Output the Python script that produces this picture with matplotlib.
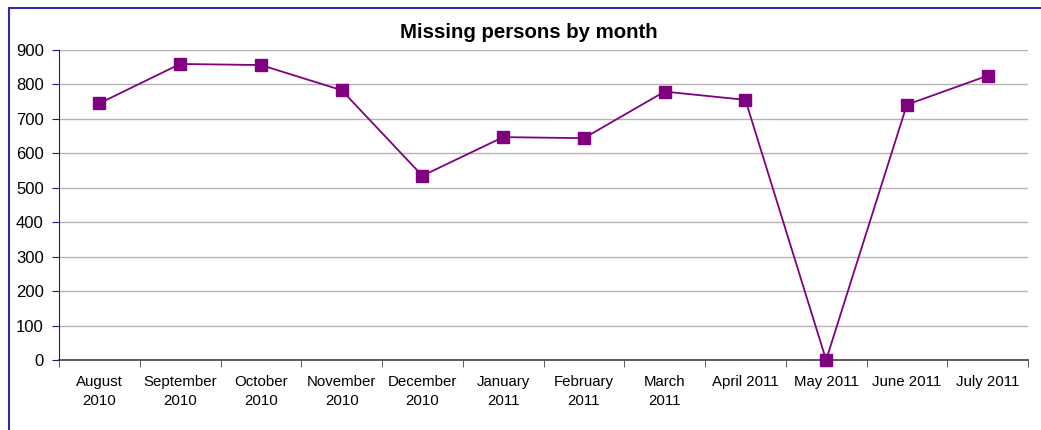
import matplotlib
matplotlib.use("Agg")
import matplotlib.pyplot as plt
from matplotlib.patches import Rectangle

# Data
months = ["August\n2010", "September\n2010", "October\n2010", "November\n2010",
          "December\n2010", "January\n2011", "February\n2011", "March\n2011",
          "April 2011", "May 2011", "June 2011", "July 2011"]
missing = [744, 858, 855, 782, 534, 646, 643, 778, 754, 0, 740, 824]
y_ticks = [0, 100, 200, 300, 400, 500, 600, 700, 800, 900]

plt.rcParams['font.family'] = ['Liberation Sans', 'DejaVu Sans']

W, H = 1041, 430
fig = plt.figure(figsize=(W / 100, H / 100), dpi=100)

# Outer chart border (right/bottom edges fall outside the image)
fig.patches.append(Rectangle((9 / W, -0.1), 1.2, 1 - 8 / H + 0.1, transform=fig.transFigure,
                             fill=False, edgecolor='#2e2e9a', linewidth=1.5))

ax = fig.add_axes([59 / W, 1 - 360 / H, (1028 - 59) / W, (360 - 49.5) / H])
x = list(range(len(months)))
ax.plot(x, missing, color='#800080', linewidth=1.3, marker='s', markersize=8,
        markerfacecolor='#800080', markeredgecolor='#800080', clip_on=False, zorder=3)

ax.set_xlim(-0.5, len(months) - 0.5)
ax.set_ylim(0, 900)
ax.set_yticks(y_ticks)
ax.set_yticklabels([str(v) for v in y_ticks], fontsize=12)
ax.yaxis.grid(True, color='#b4b4b4', linewidth=1)
ax.set_axisbelow(True)

# category labels centred, tick marks between categories
ax.set_xticks(x)
ax.set_xticklabels(months, fontsize=10.8, linespacing=1.45)
ax.tick_params(axis='x', length=0, pad=11)
ax.set_xticks([i - 0.5 for i in range(len(months) + 1)], minor=True)
ax.tick_params(axis='x', which='minor', length=5, color='#404040', direction='out')
ax.tick_params(axis='y', length=5, color='#1a1a80', direction='out', pad=6)

for s in ['top', 'right']:
    ax.spines[s].set_visible(False)
ax.spines['left'].set_color('#1a1a80')
ax.spines['bottom'].set_color('#404040')
ax.spines['bottom'].set_linewidth(1.2)

fig.text(529 / W, 1 - 33 / H, 'Missing persons by month', ha='center', va='center',
         fontsize=14.7, fontweight='bold')

fig.savefig('out.png', dpi=100)
